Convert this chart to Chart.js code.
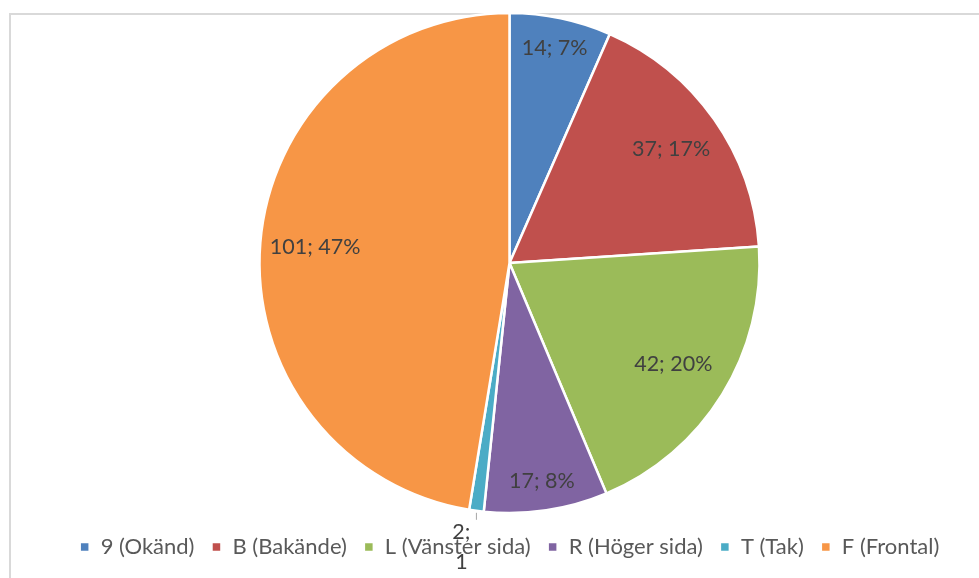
<!DOCTYPE html>
<html>
<head>
<meta charset="utf-8">
<title>Pie</title>
<script src="https://cdn.jsdelivr.net/npm/chart.js"></script>
<style>
  body { margin: 0; background: #fff; overflow: hidden; }
  .wrap { position: relative; width: 979px; height: 578px; }
  .frame { position: absolute; left: 9px; top: 13px; width: 1000px; height: 600px;
           border-left: 2px solid #d9d9d9; border-top: 2px solid #d9d9d9; }
  canvas { position: absolute; left: 0; top: 0; }
</style>
</head>
<body>
<div class="wrap">
  <div class="frame"></div>
  <canvas id="pie" width="979" height="578"></canvas>
</div>
<script>
const categories = ['9 (Okänd)', 'B (Bakände)', 'L (Vänster sida)', 'R (Höger sida)', 'T (Tak)', 'F (Frontal)'];
const counts = [14, 37, 42, 17, 2, 101];
const colors = ['#4F81BD', '#C0504D', '#9BBB59', '#8064A2', '#4BACC6', '#F79646'];

// where each label sits along the radius (null = outside with leader)
const labelRadius = [0.88, 0.79, 0.77, 0.88, null, 0.78];

const total = counts.reduce((a, b) => a + b, 0);

// data labels "value; percent"
const pieLabels = {
  id: 'pieLabels',
  afterDatasetsDraw(chart) {
    const ctx = chart.ctx;
    const meta = chart.getDatasetMeta(0);
    ctx.save();
    ctx.font = '21.5px Lato';
    ctx.fillStyle = '#404040';
    ctx.textAlign = 'center';
    ctx.textBaseline = 'middle';
    meta.data.forEach((arc, i) => {
      const p = arc.getProps(['x', 'y', 'startAngle', 'endAngle', 'outerRadius']);
      const mid = (p.startAngle + p.endAngle) / 2;
      const pct = Math.round(counts[i] / total * 100);
      if (labelRadius[i] !== null) {
        const r = p.outerRadius * labelRadius[i];
        ctx.fillText(counts[i] + '; ' + pct + '%', p.x + Math.cos(mid) * r, p.y + Math.sin(mid) * r);
      } else {
        const ox = p.x + Math.cos(mid) * p.outerRadius;
        const oy = p.y + Math.sin(mid) * p.outerRadius;
        ctx.strokeStyle = '#a6a6a6';
        ctx.lineWidth = 1;
        ctx.beginPath();
        ctx.moveTo(ox, oy + 2);
        ctx.lineTo(ox, oy + 9);
        ctx.stroke();
        ctx.fillText(counts[i] + ';', ox - 15, oy + 21);
        ctx.fillText(String(pct), ox - 15, oy + 51);
      }
    });
    ctx.restore();
  }
};

new Chart(document.getElementById('pie'), {
  type: 'pie',
  data: {
    labels: categories,
    datasets: [{
      data: counts,
      backgroundColor: colors,
      borderColor: '#ffffff',
      borderWidth: 2.5,
      radius: 250
    }]
  },
  options: {
    responsive: false,
    animation: false,
    layout: { padding: { top: 7, bottom: 10, left: 40, right: 0 } },
    plugins: {
      tooltip: { enabled: false },
      legend: {
        position: 'bottom',
        labels: {
          boxWidth: 10,
          boxHeight: 10,
          padding: 17,
          color: '#595959',
          font: { family: 'Lato', size: 22 }
        }
      }
    }
  },
  plugins: [pieLabels]
});
</script>
</body>
</html>
